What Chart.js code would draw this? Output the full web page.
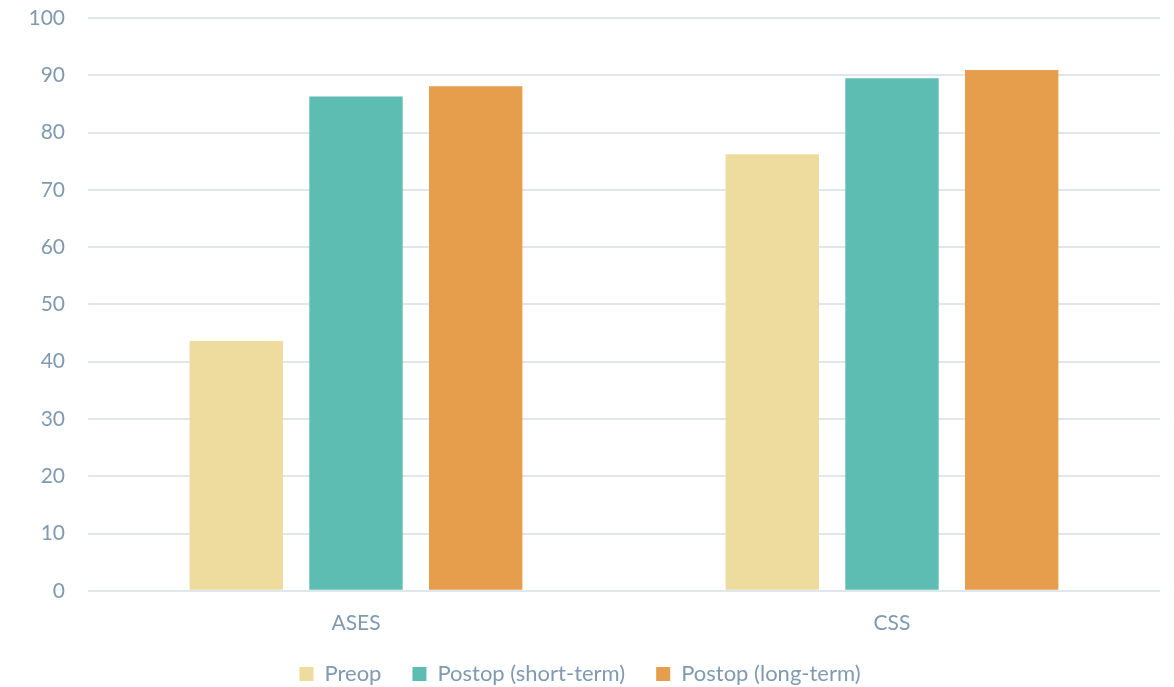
<!DOCTYPE html>
<html>
<head>
<meta charset="utf-8">
<script src="https://cdn.jsdelivr.net/npm/chart.js@4.4.1/dist/chart.umd.min.js"></script>
<style>
html,body{margin:0;padding:0;background:#fff;}
#wrap{width:1174px;height:687px;position:relative;}
</style>
</head>
<body>
<div id="wrap"><canvas id="c" width="1174" height="687"></canvas></div>
<script>
const categories = ["ASES", "CSS"];
const seriesNames = ["Preop", "Postop (short-term)", "Postop (long-term)"];
const preop = [43.6, 76.2];
const postopShort = [86.3, 89.5];
const postopLong = [88.1, 90.9];
const yTicks = [0, 10, 20, 30, 40, 50, 60, 70, 80, 90, 100];
const colors = ["#EEDC9F", "#5EBDB2", "#E69E4C"];

const textColor = "#7F9AB1";
const fontFamily = "Lato, 'Open Sans', sans-serif";

new Chart(document.getElementById("c"), {
  type: "bar",
  data: {
    labels: categories,
    datasets: [preop, postopShort, postopLong].map((d, i) => ({
      label: seriesNames[i],
      data: d,
      backgroundColor: colors[i],
      borderWidth: 0,
      categoryPercentage: 0.67,
      barPercentage: 0.78
    }))
  },
  options: {
    responsive: false,
    animation: false,
    devicePixelRatio: 1,
    layout: { padding: { left: 0, right: 14, top: 18, bottom: -8 } },
    plugins: {
      tooltip: { enabled: false },
      legend: {
        position: "bottom",
        labels: {
          color: textColor,
          font: { family: fontFamily, size: 22 },
          boxWidth: 14,
          boxHeight: 14,
          padding: 31,
          useBorderRadius: false
        }
      }
    },
    scales: {
      x: {
        grid: { display: false, drawTicks: false },
        border: { display: false },
        ticks: { color: textColor, font: { family: fontFamily, size: 21 }, padding: 20 },
        afterFit: (s) => { s.paddingLeft = 0; s.paddingRight = 0; s.height -= 24; }
      },
      y: {
        min: 0,
        max: 100,
        afterBuildTicks: (axis) => { axis.ticks = yTicks.map(v => ({ value: v })); },
        grid: { color: "#DFE6EC", lineWidth: 2, drawTicks: false },
        border: { display: false },
        ticks: { color: textColor, font: { family: fontFamily, size: 21 }, padding: 23 },
        afterFit: (s) => { s.width = 88; s.paddingTop = 10; s.paddingBottom = 0; }
      }
    }
  }
});
</script>
</body>
</html>
